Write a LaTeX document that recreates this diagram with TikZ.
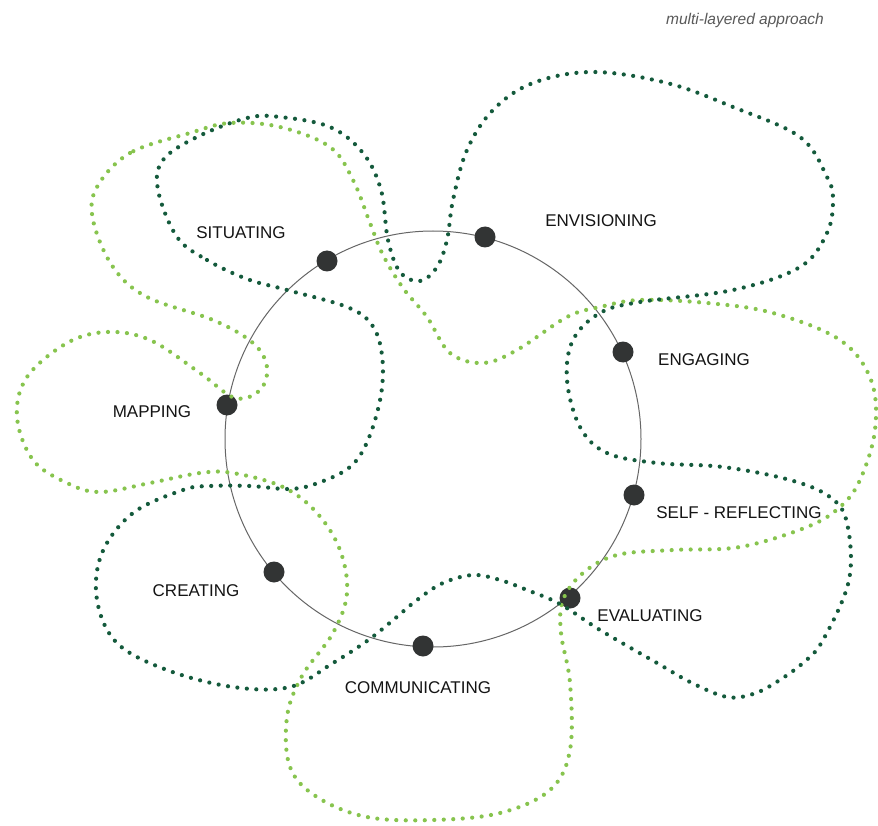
\documentclass[tikz,border=0pt]{standalone}
\usepackage{fontspec}
\setmainfont{Liberation Sans}
\definecolor{darkg}{RGB}{20,90,60}
\definecolor{lightg}{RGB}{135,196,78}
\definecolor{beadc}{RGB}{50,52,52}
\tikzset{
  dotline/.style={line width=4.2pt, line cap=round, dash pattern=on 0pt off 9.5pt},
  bead/.style={circle, fill=beadc, minimum size=21pt, inner sep=0pt},
  lbl/.style={font=\fontsize{17}{20}\selectfont, text=black!92, inner sep=0pt},
}
\begin{document}
\begin{tikzpicture}[x=1pt,y=-1pt]
\useasboundingbox[fill=white] (0,0) rectangle (878,826);
\node[draw=black!60, line width=1pt, circle, minimum size=416pt, inner sep=0pt] (ring) at (433,439) {};

\node[bead] (dsit) at (327,261) {};
\node[bead] (denv) at (485,237) {};
\node[bead] (deng) at (623,352) {};
\node[bead] (dself) at (634,495) {};
\node[bead] (deval) at (570,598) {};
\node[bead] (dcomm) at (423,646) {};
\node[bead] (dcrea) at (274,572) {};
\node[bead] (dmap) at (227,405) {};

\node[lbl] (tsit) at (241,233) {SITUATING};
\node[lbl] (tenv) at (601,221) {ENVISIONING};
\node[lbl] (teng) at (704,360) {ENGAGING};
\node[lbl] (tself) at (739,513) {SELF - REFLECTING};
\node[lbl] (teval) at (650,616) {EVALUATING};
\node[lbl] (tcomm) at (418,688) {COMMUNICATING};
\node[lbl] (tcrea) at (196,591) {CREATING};
\node[lbl] (tmap) at (152,412) {MAPPING};

\node[font=\itshape\fontsize{15.5}{18}\selectfont, text=black!65, inner sep=0pt] (title) at (745,20) {multi-layered approach};

\draw[dotline, lightg] plot[smooth cycle, tension=0.6] coordinates {
(190,133) (130,153) (97,187) (93,220) (113,267) (147,297) (213,320) (253,343)
(267,367) (260,390) (235,398) (200,373) (150,340) (107,332) (67,343) (27,377)
(17,417) (33,460) (67,483) (100,492) (150,483) (200,473) (233,473) (283,487)
(317,513) (340,550) (347,593) (333,633) (302,676) (287,717) (290,767) (317,797)
(367,817) (433,820) (500,813) (550,790) (570,750) (570,683) (561,633) (563,600)
(583,573) (617,555) (673,550) (740,547) (807,527) (840,507) (860,480) (875,430)
(871,380) (840,340) (773,313) (707,303) (640,300) (600,307) (567,317) (517,350)
(483,363) (450,353) (427,317) (403,288) (383,255) (370,223) (353,180) (330,147)
(280,127) (230,123)};

\draw[dotline, darkg] plot[smooth cycle, tension=0.6] coordinates {
(177,237) (207,260) (247,279) (287,290) (347,307) (372,325) (382,355) (381,395)
(368,440) (350,467) (318,483) (290,489) (250,486) (210,486) (183,490) (133,513)
(102,553) (97,600) (117,643) (167,670) (233,687) (290,687) (333,663) (367,641)
(392,621) (417,600) (443,583) (473,575) (500,580) (527,590) (560,604) (600,630)
(657,663) (692,683) (727,697) (753,694) (775,683) (803,663) (823,640) (849,580)
(847,523) (830,497) (790,480)
(723,467) (657,463) (607,453) (580,427) (567,380) (573,340) (600,313) (640,302)
(733,290) (800,267) (827,233) (833,200) (827,177) (800,137) (733,107) (667,83)
(593,72) (533,83) (493,110) (467,150) (453,200) (447,240) (437,267) (420,281)
(400,272) (388,240) (381,190) (363,153) (330,127) (280,117) (247,118) (197,137)
(163,160) (158,190)};
\end{tikzpicture}
\end{document}
